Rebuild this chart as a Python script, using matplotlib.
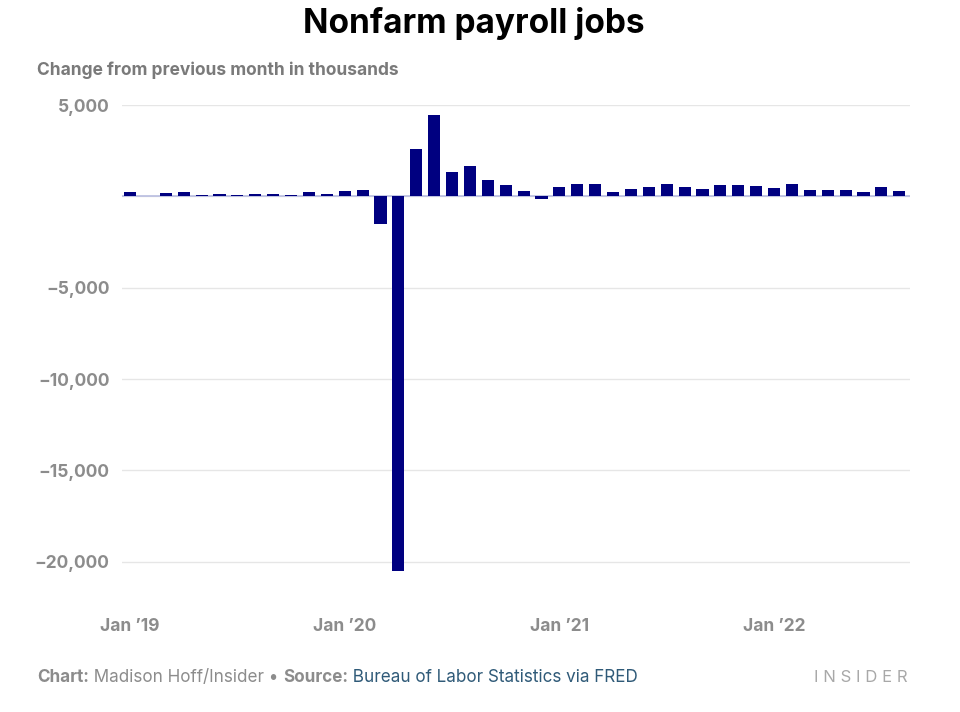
import matplotlib.pyplot as plt
import numpy as np

# monthly change in nonfarm payrolls, thousands (Jan 2019 - Aug 2022)
months = ['Jan 2019', 'Feb 2019', 'Mar 2019', 'Apr 2019', 'May 2019', 'Jun 2019',
          'Jul 2019', 'Aug 2019', 'Sep 2019', 'Oct 2019', 'Nov 2019', 'Dec 2019',
          'Jan 2020', 'Feb 2020', 'Mar 2020', 'Apr 2020', 'May 2020', 'Jun 2020',
          'Jul 2020', 'Aug 2020', 'Sep 2020', 'Oct 2020', 'Nov 2020', 'Dec 2020',
          'Jan 2021', 'Feb 2021', 'Mar 2021', 'Apr 2021', 'May 2021', 'Jun 2021',
          'Jul 2021', 'Aug 2021', 'Sep 2021', 'Oct 2021', 'Nov 2021', 'Dec 2021',
          'Jan 2022', 'Feb 2022', 'Mar 2022', 'Apr 2022', 'May 2022', 'Jun 2022',
          'Jul 2022', 'Aug 2022']
values_2019 = [260, 20, 200, 260, 70, 110, 60, 130, 130, 50, 220, 150]
values_2020 = [310, 345, -1510, -20490, 2600, 4480, 1350, 1640, 890, 620, 310, -120]
values_2021 = [490, 690, 670, 240, 420, 540, 650, 490, 380, 640, 620, 560]
values_2022 = [470, 690, 360, 330, 340, 260, 490, 290]
values = values_2019 + values_2020 + values_2021 + values_2022

tick_pos = [0, 12, 24, 36]
tick_labels = ["Jan \u201919", "Jan \u201920", "Jan \u201921", "Jan \u201922"]
y_ticks = [5000, 0, -5000, -10000, -15000, -20000]
y_labels = ['5,000', '', '\u22125,000', '\u221210,000', '\u221215,000', '\u221220,000']

plt.rcParams['font.family'] = ['Inter', 'DejaVu Sans']

fig = plt.figure(figsize=(9.6, 7.12), dpi=100)
ax = fig.add_axes([122 / 960, 1 - 571 / 712, (910 - 122) / 960, (571 - 105) / 712])

x = np.arange(len(values))
ax.bar(x, values, width=0.68, color='#000080', zorder=3)
ax.axhline(0, color='#b9bde0', lw=1.2, zorder=2)

ax.set_xlim(-0.45, 43.6)
ax.set_ylim(-20500, 5000)
ax.set_yticks(y_ticks)
ax.set_yticklabels(y_labels)
ax.set_xticks(tick_pos)
ax.set_xticklabels(tick_labels)
ax.grid(axis='y', color='#e6e6e6', lw=1, zorder=0)
for s in ax.spines.values():
    s.set_visible(False)
ax.tick_params(axis='both', length=0, colors='#8c8c8c', labelsize=12.5)
ax.tick_params(axis='y', pad=9)
ax.tick_params(axis='x', pad=34)
for lab in ax.get_xticklabels() + ax.get_yticklabels():
    lab.set_fontweight('bold')

fig.text(0.494, 1 - 23 / 712, 'Nonfarm payroll jobs', ha='center', va='center',
         fontsize=24, fontweight='bold', color='black')
fig.text(37 / 960, 1 - 70 / 712, 'Change from previous month in thousands',
         ha='left', va='center', fontsize=12.5, fontweight='bold', color='#7a7a7a')

# footer pieces, chained one after another
t = fig.text(37 / 960, 1 - 677 / 712, 'Chart:', ha='left', va='center',
             fontsize=12.3, fontweight='bold', color='#8c8c8c')
parts = [(' Madison Hoff/Insider \u2022 ', 'normal', '#8c8c8c'),
         ('Source:', 'bold', '#8c8c8c'),
         (' Bureau of Labor Statistics via FRED', 'normal', '#2f5a78')]
for txt, w, c in parts:
    t = ax.annotate(txt, xy=(1, 0.5), xycoords=t, ha='left', va='center',
                    fontsize=12.3, fontweight=w, color=c, annotation_clip=False)

fig.text(908 / 960, 1 - 677 / 712, 'I N S I D E R', ha='right', va='center',
         fontsize=12, color='#a8a8a8')

fig.savefig('out.png', dpi=100, facecolor='white')
